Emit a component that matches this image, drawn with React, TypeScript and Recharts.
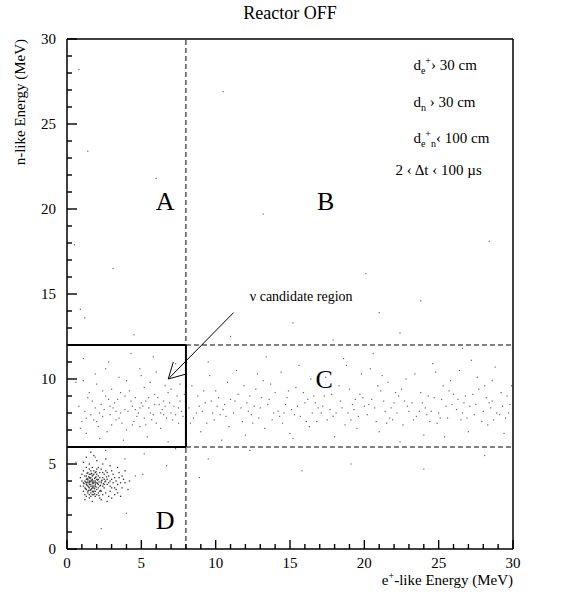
import React from 'react'
import { ReferenceDot, ReferenceLine, Scatter, ScatterChart, XAxis, YAxis } from 'recharts'

type Pt = [number, number]

// dense low n-energy cluster (region D)
const clusterD: Pt[] = [
  [1.5, 3.9], [1.7, 3.7], [1.3, 4.1], [1.9, 3.8], [1.6, 4.2], [1.2, 3.6], [1.8, 4.0], [2.0, 3.5], [1.4, 3.3], [2.1, 4.1],
  [1.6, 3.5], [1.5, 4.4], [1.1, 3.9], [2.2, 3.7], [1.7, 4.3], [1.3, 3.8], [1.9, 4.2], [1.8, 3.4], [2.3, 3.9], [1.5, 3.6],
  [1.0, 4.0], [1.6, 3.1], [2.0, 4.4], [2.4, 4.2], [1.4, 4.0], [1.8, 3.6], [1.2, 4.3], [2.1, 3.3], [1.7, 3.9], [2.5, 3.6],
  [1.3, 3.5], [1.9, 3.1], [1.5, 4.7], [2.6, 4.0], [2.2, 4.5], [1.1, 3.4], [1.7, 3.2], [2.7, 3.8], [1.4, 4.5], [2.0, 3.9],
  [2.8, 4.3], [1.6, 4.0], [0.9, 3.7], [2.3, 3.4], [1.8, 4.6], [2.9, 3.7], [1.5, 3.0], [2.1, 3.8], [3.0, 4.1], [1.3, 4.8],
  [2.5, 4.4], [1.9, 3.7], [3.1, 3.9], [1.7, 4.1], [1.2, 3.2], [3.2, 3.6], [1.4, 3.7], [2.4, 3.2], [3.3, 4.0], [1.6, 4.6],
  [2.2, 3.0], [3.4, 3.8], [1.8, 3.9], [2.7, 4.5], [3.5, 4.2], [2.0, 3.2], [1.0, 4.4], [2.9, 3.4], [3.6, 3.9], [1.5, 4.2],
  [2.3, 4.7], [3.7, 3.6], [1.9, 4.0], [2.6, 3.3], [3.8, 4.1], [1.3, 3.1], [2.1, 4.8], [3.0, 4.6], [1.7, 3.6], [2.8, 3.1],
  [1.1, 4.6], [3.3, 3.5], [1.8, 4.4], [2.5, 3.8], [1.4, 3.4], [2.2, 4.2], [3.1, 4.4], [1.6, 3.3], [2.4, 3.7], [3.9, 3.9],
  [2.0, 4.7], [1.2, 4.0], [2.7, 4.1], [1.5, 3.8], [3.2, 3.2], [1.9, 3.4], [2.3, 4.0], [1.7, 4.8], [3.5, 4.5], [2.1, 3.6],
  [1.3, 4.3], [2.9, 4.0], [1.8, 3.2], [2.6, 4.6], [1.4, 4.1], [3.4, 3.3], [2.0, 4.1], [1.1, 3.7], [2.8, 3.9], [1.6, 4.4],
  [2.2, 3.4], [3.0, 3.6], [1.5, 3.2], [2.4, 4.5], [1.9, 4.5], [3.7, 4.3], [1.7, 3.4], [2.5, 4.1], [1.3, 3.9], [2.1, 4.3],
  [3.2, 4.2], [1.8, 3.7], [1.6, 3.7], [1.4, 3.9], [1.7, 4.0], [1.5, 4.0], [1.9, 3.9], [1.6, 3.8], [1.55, 3.95], [1.75, 3.85],
  [1.35, 3.75], [1.85, 4.15], [1.65, 3.55], [1.45, 4.25], [1.95, 3.65], [1.25, 3.95], [2.05, 3.85], [1.75, 4.35],
  [1.45, 3.65], [1.55, 3.45], [1.65, 4.05], [1.85, 3.55], [2.15, 3.95], [1.35, 4.15], [1.95, 4.25], [2.25, 3.75],
  [1.25, 3.55], [1.75, 3.35], [2.05, 4.05], [1.55, 4.15], [2.35, 4.05], [1.15, 3.85], [2.45, 3.85], [1.85, 3.25],
  [1.65, 4.45], [2.25, 3.45], [1.45, 3.45], [2.55, 3.95], [1.35, 4.45], [2.15, 3.15], [1.95, 4.55], [2.65, 4.25],
  [1.5, 5.0], [2.0, 5.2], [1.3, 5.4], [2.4, 5.0], [1.8, 5.5], [2.9, 4.9], [3.4, 4.8], [1.1, 5.1], [2.6, 5.3], [1.6, 5.7],
  [3.9, 4.6], [4.2, 4.0], [4.1, 3.5], [3.6, 3.1], [2.3, 2.9], [1.7, 2.8], [1.2, 2.9], [3.0, 3.0], [2.7, 2.8], [0.9, 4.2],
]

// events inside the candidate box (x 0-8, y 6-12)
const boxBand: Pt[] = [
  [1.2, 8.1], [1.8, 7.6], [2.3, 8.5], [2.9, 7.9], [3.4, 8.8], [3.9, 8.2], [4.5, 7.5], [5.0, 8.6], [5.6, 8.0], [6.1, 8.9],
  [6.7, 7.7], [7.2, 8.4], [7.7, 8.1], [1.5, 9.2], [2.1, 7.2], [2.6, 9.0], [3.1, 8.3], [3.7, 7.4], [4.2, 9.3], [4.8, 8.0],
  [5.3, 7.3], [5.9, 9.1], [6.4, 8.2], [7.0, 9.4], [7.5, 7.4], [1.0, 7.5], [1.7, 8.7], [2.4, 7.8], [3.0, 9.4], [3.6, 8.0],
  [4.0, 7.0], [4.6, 8.9], [5.2, 9.5], [5.7, 7.6], [6.3, 7.1], [6.9, 8.6], [7.4, 9.0], [1.3, 6.8], [2.0, 9.7], [2.7, 6.9],
  [3.3, 7.6], [4.4, 8.4], [5.5, 8.3], [6.6, 9.6], [7.8, 7.8], [0.8, 8.4], [1.9, 10.3], [3.5, 10.1], [4.9, 10.6], [6.0, 10.4],
  [7.3, 10.9], [1.1, 11.2], [2.8, 11.0], [4.3, 11.5], [5.8, 11.3], [0.6, 9.8], [2.2, 6.5], [3.8, 6.4], [5.4, 6.6], [6.8, 6.3],
  [1.6, 7.9], [2.5, 8.2], [3.2, 8.6], [4.1, 8.1], [4.7, 7.8], [5.1, 8.4], [6.2, 8.5], [6.5, 7.9], [7.1, 7.6], [7.6, 8.7],
  [1.4, 8.9], [2.9, 8.4], [3.6, 9.2], [4.4, 7.3], [5.6, 9.8], [6.0, 7.4], [7.0, 8.0], [2.2, 8.0], [3.0, 7.3], [4.9, 8.3],
  [5.3, 8.7], [5.9, 8.5], [6.6, 8.4], [1.1, 9.9], [2.6, 10.6], [4.0, 9.9], [5.0, 10.2], [6.9, 10.1], [7.6, 9.7], [0.9, 7.1],
  [1.9, 8.3], [2.4, 9.3], [3.5, 7.7], [4.3, 8.7], [4.9, 7.2], [5.5, 8.9], [6.3, 8.0], [6.8, 9.2], [7.3, 7.9], [1.3, 7.7],
  [2.8, 8.8], [3.9, 9.0], [5.8, 7.9], [6.5, 8.7], [7.5, 8.3], [2.0, 7.5], [3.3, 8.1], [4.6, 8.2], [5.2, 7.7], [7.9, 9.1],
]

// band of events in region C (x 8-30, y 6-12)
const regionCBand: Pt[] = [
  [8.2, 8.3], [8.5, 7.7], [8.8, 9.0], [9.1, 8.1], [9.4, 7.4], [9.7, 8.7], [10.0, 9.3], [10.3, 7.9], [10.6, 8.5], [10.9, 7.2],
  [8.4, 9.6], [9.0, 6.9], [9.6, 10.2], [10.2, 8.9], [10.8, 9.8], [8.7, 8.0], [9.3, 8.6], [9.9, 7.6], [10.5, 8.2], [11.0, 8.8],
  [11.2, 8.0], [11.5, 9.1], [11.8, 7.5], [12.1, 8.6], [12.4, 7.9], [12.7, 9.4], [13.0, 8.3], [13.3, 7.1], [13.6, 8.8], [13.9, 8.0],
  [11.4, 10.5], [12.0, 6.7], [12.6, 8.4], [13.2, 9.9], [13.8, 7.6], [11.7, 8.3], [12.3, 9.0], [12.9, 7.7], [13.5, 8.5], [14.0, 9.2],
  [14.2, 8.1], [14.5, 7.4], [14.8, 8.9], [15.1, 8.2], [15.4, 9.5], [15.7, 7.8], [16.0, 8.6], [16.3, 7.2], [16.6, 9.0], [16.9, 8.3],
  [14.4, 10.4], [15.0, 6.8], [15.6, 10.8], [16.2, 8.8], [16.8, 7.5], [14.7, 8.5], [15.3, 7.9], [15.9, 9.2], [16.5, 8.0], [17.0, 9.7],
  [17.2, 8.4], [17.5, 7.6], [17.8, 9.1], [18.1, 8.0], [18.4, 8.7], [18.7, 7.3], [19.0, 9.4], [19.3, 8.2], [19.6, 7.8], [19.9, 8.9],
  [17.4, 10.1], [18.0, 6.6], [18.6, 11.2], [19.2, 8.5], [19.8, 10.3], [17.7, 8.2], [18.3, 9.6], [18.9, 8.0], [19.5, 7.1], [20.0, 8.4],
  [20.2, 7.9], [20.5, 8.8], [20.8, 7.5], [21.1, 9.3], [21.4, 8.1], [21.7, 7.7], [22.0, 8.6], [22.3, 9.0], [22.6, 7.3], [22.9, 8.4],
  [20.4, 10.6], [21.0, 6.9], [21.6, 9.8], [22.2, 8.0], [22.8, 10.0], [20.7, 8.3], [21.3, 8.7], [21.9, 7.6], [22.5, 9.4], [23.0, 8.1],
  [23.2, 8.6], [23.5, 7.8], [23.8, 9.2], [24.1, 8.3], [24.4, 7.5], [24.7, 8.9], [25.0, 8.0], [25.3, 9.6], [25.6, 7.7], [25.9, 8.5],
  [23.4, 10.3], [24.0, 6.7], [24.6, 10.9], [25.2, 8.8], [25.8, 9.9], [23.7, 8.1], [24.3, 9.0], [24.9, 7.4], [25.5, 8.4], [26.0, 9.1],
  [26.2, 8.2], [26.5, 7.6], [26.8, 9.0], [27.1, 8.4], [27.4, 7.9], [27.7, 9.4], [28.0, 8.1], [28.3, 7.3], [28.6, 8.7], [28.9, 8.0],
  [29.2, 9.2], [29.5, 7.7], [29.8, 8.5], [26.4, 10.5], [27.0, 6.9], [27.6, 10.1], [28.2, 8.9], [28.8, 10.7], [29.4, 6.8], [29.9, 9.6],
  [26.7, 8.6], [27.3, 9.1], [27.9, 7.5], [28.5, 8.3], [29.1, 7.9], [29.7, 8.0],
  [8.3, 7.4], [9.2, 9.3], [10.1, 8.4], [10.7, 7.8], [11.3, 8.7], [11.9, 9.6], [12.5, 7.4], [13.1, 8.9], [13.7, 9.7], [14.3, 7.8],
  [14.9, 9.3], [15.5, 8.4], [16.1, 7.5], [16.7, 8.6], [17.3, 9.0], [17.9, 7.8], [18.5, 8.3], [19.1, 7.6], [19.7, 9.1], [20.3, 8.5],
  [20.9, 9.6], [21.5, 7.4], [22.1, 9.2], [22.7, 8.7], [23.3, 7.6], [23.9, 8.6], [24.5, 8.1], [25.1, 7.7], [25.7, 9.3], [26.3, 8.8],
  [26.9, 7.7], [27.5, 8.5], [28.1, 9.6], [28.7, 7.6], [29.3, 8.4], [29.6, 9.0], [8.9, 8.4], [9.8, 8.0], [12.2, 8.1], [14.6, 8.0],
  [17.1, 8.0], [19.4, 8.8], [21.8, 8.3], [24.2, 7.9], [26.6, 8.0], [28.4, 8.6], [9.5, 11.0], [13.4, 11.3], [20.6, 11.5], [27.2, 11.1],
  [10.4, 6.4], [15.2, 6.5], [22.4, 6.3], [25.4, 6.6], [18.8, 10.8], [12.8, 10.3], [24.8, 10.4], [16.4, 10.0], [21.2, 10.2], [28.6, 9.9],
]

// isolated events elsewhere
const strayEvents: Pt[] = [
  [0.8, 28.2], [1.4, 23.4], [3.1, 16.5], [1.2, 13.6], [0.9, 14.1], [0.5, 17.9], [10.5, 26.9], [15.2, 13.3], [20.1, 16.2],
  [28.4, 18.1], [23.8, 14.6], [13.2, 19.7], [4.5, 12.6], [9.5, 5.3], [12.3, 5.8], [19.1, 5.0], [24.0, 4.7], [15.8, 4.6],
  [28.1, 5.5], [5.2, 5.6], [6.7, 4.9], [3.9, 5.3], [2.6, 5.8], [1.9, 5.4], [0.6, 5.1], [7.3, 5.9], [11.0, 12.5], [17.9, 12.3],
  [22.4, 12.7], [26.6, 11.8], [4.0, 2.1], [2.3, 1.2], [8.9, 4.2], [21.0, 13.9], [6.0, 21.8], [4.6, 4.3], [5.1, 4.4],
]

const axisTicks = Array.from({ length: 31 }, (_, i) => i)
const labelTicks = [0, 5, 10, 15, 20, 25, 30]

const FONT = 'Liberation Serif'

const toXY = (pts: Pt[]) => pts.map(([x, y]) => ({ x, y }))

const Dot = (p: any) => <rect x={p.cx - 0.6} y={p.cy - 0.6} width={1.2} height={1.2} fill="#666" />
const DarkDot = (p: any) => <rect x={p.cx - 0.6} y={p.cy - 0.6} width={1.3} height={1.3} fill="#333" />

// inward tick marks drawn at axis values
const XMark = (p: any) => (
  <line x1={p.cx} x2={p.cx} y1={p.cy} y2={p.cy - (p.payload.x % 5 === 0 ? 9 : 5)} stroke="#000" strokeWidth={1.4} />
)
const YMark = (p: any) => (
  <line x1={p.cx} x2={p.cx + (p.payload.y % 5 === 0 ? 10 : 5)} y1={p.cy} y2={p.cy} stroke="#000" strokeWidth={1.4} />
)

const XTick = ({ x, y, payload }: any) => (
  <text x={x} y={y + 17} textAnchor="middle" fontSize={15} fontFamily={FONT} fill="#000">
    {payload.value}
  </text>
)

const YTick = ({ x, y, payload }: any) => (
  <text x={x - 9} y={y + 5} textAnchor="end" fontSize={15} fontFamily={FONT} fill="#000">
    {payload.value}
  </text>
)

const textAt = (content: React.ReactNode, size: number, dy = 0, anchor = 'middle') => (p: any) => (
  <text x={p.cx} y={p.cy + dy} textAnchor={anchor} fontSize={size} fontFamily={FONT} fill="#000">
    {content}
  </text>
)

export default function App() {
  return (
    <div style={{ position: 'absolute', left: 0, top: 0 }}>
      <ScatterChart width={568} height={593} margin={{ top: 39, right: 55, bottom: 43, left: 66 }}>
        <XAxis
          type="number"
          dataKey="x"
          domain={[0, 30]}
          ticks={labelTicks}
          interval={0}
          height={1}
          tickSize={0}
          tick={<XTick />}
          axisLine={{ stroke: '#000', strokeWidth: 1.5 }}
        />
        <YAxis
          type="number"
          dataKey="y"
          domain={[0, 30]}
          ticks={labelTicks}
          interval={0}
          width={1}
          tickSize={0}
          tick={<YTick />}
          axisLine={{ stroke: '#000', strokeWidth: 1.5 }}
        />

        {/* frame */}
        <ReferenceLine segment={[{ x: 0, y: 30 }, { x: 30, y: 30 }]} stroke="#000" strokeWidth={1.5} />
        <ReferenceLine segment={[{ x: 30, y: 0 }, { x: 30, y: 30 }]} stroke="#000" strokeWidth={1.5} />

        {/* region boundaries */}
        <ReferenceLine segment={[{ x: 8, y: 0 }, { x: 8, y: 30 }]} stroke="#000" strokeDasharray="5 3" />
        <ReferenceLine segment={[{ x: 8, y: 12 }, { x: 30, y: 12 }]} stroke="#000" strokeDasharray="5 3" />
        <ReferenceLine segment={[{ x: 8, y: 6 }, { x: 30, y: 6 }]} stroke="#000" strokeDasharray="5 3" />
        <ReferenceLine segment={[{ x: 0, y: 12 }, { x: 8, y: 12 }]} stroke="#000" strokeWidth={2} />
        <ReferenceLine segment={[{ x: 0, y: 6 }, { x: 8, y: 6 }]} stroke="#000" strokeWidth={2} />
        <ReferenceLine segment={[{ x: 8, y: 6 }, { x: 8, y: 12 }]} stroke="#000" strokeWidth={2} />

        <Scatter data={axisTicks.map((t) => ({ x: t, y: 0 }))} shape={XMark} isAnimationActive={false} />
        <Scatter data={axisTicks.map((t) => ({ x: 0, y: t }))} shape={YMark} isAnimationActive={false} />

        <Scatter data={toXY(clusterD)} shape={DarkDot} isAnimationActive={false} />
        <Scatter data={toXY(boxBand)} shape={Dot} isAnimationActive={false} />
        <Scatter data={toXY(regionCBand)} shape={Dot} isAnimationActive={false} />
        <Scatter data={toXY(strayEvents)} shape={Dot} isAnimationActive={false} />

        {/* arrow to the candidate region */}
        <ReferenceLine segment={[{ x: 11.2, y: 13.9 }, { x: 6.81, y: 10.0 }]} stroke="#000" />
        <ReferenceLine segment={[{ x: 6.81, y: 10.0 }, { x: 7.15, y: 11.0 }]} stroke="#000" />
        <ReferenceLine segment={[{ x: 6.81, y: 10.0 }, { x: 8.05, y: 10.3 }]} stroke="#000" />

        <ReferenceDot x={15} y={30} ifOverflow="visible" shape={textAt('Reactor OFF', 18, -20)} />
        <ReferenceDot x={6.6} y={20.5} shape={textAt('A', 26, 9)} />
        <ReferenceDot x={17.4} y={20.5} shape={textAt('B', 26, 9)} />
        <ReferenceDot x={17.3} y={10.0} shape={textAt('C', 26, 9)} />
        <ReferenceDot x={6.6} y={1.7} shape={textAt('D', 26, 9)} />
        <ReferenceDot x={12.3} y={14.9} shape={textAt('ν candidate region', 14, 5, 'start')} />

        <ReferenceDot
          x={23.3}
          y={28.5}
          shape={textAt(
            <>
              <tspan>d</tspan>
              <tspan dy={4} fontSize={10}>e</tspan>
              <tspan dy={-10} fontSize={10}>+</tspan>
              <tspan dy={6}>› 30 cm</tspan>
            </>,
            15,
            5,
            'start'
          )}
        />
        <ReferenceDot
          x={23.3}
          y={26.3}
          shape={textAt(
            <>
              <tspan>d</tspan>
              <tspan dy={4} fontSize={10}>n</tspan>
              <tspan dy={-4}>{'  '}› 30 cm</tspan>
            </>,
            15,
            5,
            'start'
          )}
        />
        <ReferenceDot
          x={23.3}
          y={24.2}
          shape={textAt(
            <>
              <tspan>d</tspan>
              <tspan dy={4} fontSize={10}>e</tspan>
              <tspan dy={-10} fontSize={10}>+</tspan>
              <tspan dy={10} fontSize={10}>n</tspan>
              <tspan dy={-4}>‹ 100 cm</tspan>
            </>,
            15,
            5,
            'start'
          )}
        />
        <ReferenceDot x={22.1} y={22.3} shape={textAt('2 ‹ Δt ‹ 100 µs', 15, 5, 'start')} />

        {/* axis titles */}
        <ReferenceDot
          x={30}
          y={0}
          ifOverflow="visible"
          shape={textAt(
            <>
              <tspan>e</tspan>
              <tspan dy={-6} fontSize={10}>+</tspan>
              <tspan dy={6}>-like Energy (MeV)</tspan>
            </>,
            15,
            36,
            'end'
          )}
        />
        <ReferenceDot
          x={0}
          y={30}
          ifOverflow="visible"
          shape={(p: any) => (
            <text
              x={p.cx - 42}
              y={p.cy}
              transform={`rotate(-90 ${p.cx - 42} ${p.cy})`}
              textAnchor="end"
              fontSize={15}
              fontFamily={FONT}
              fill="#000"
            >
              n-like Energy (MeV)
            </text>
          )}
        />
      </ScatterChart>
    </div>
  )
}
